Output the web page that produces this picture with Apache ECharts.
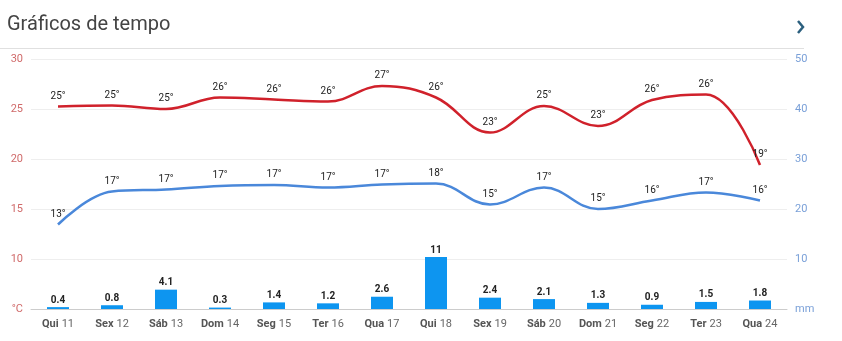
<!DOCTYPE html>
<html><head><meta charset="utf-8">
<script src="https://cdn.jsdelivr.net/npm/echarts@6/dist/echarts.min.js"></script>
<style>html,body{margin:0;padding:0;background:#fff}#c{width:842px;height:341px}</style>
</head><body><div id="c"></div>
<script>
const dayNames = ['Qui','Sex','Sáb','Dom','Seg','Ter','Qua','Qui','Sex','Sáb','Dom','Seg','Ter','Qua'];
const dayNums = ['11','12','13','14','15','16','17','18','19','20','21','22','23','24'];
const maxTemp = [25.25,25.35,25.0,26.15,25.95,25.75,27.3,26.15,22.65,25.3,23.3,25.9,26.45,19.4];
const minTemp = [13.45,16.75,16.95,17.3,17.4,17.15,17.45,17.55,15.45,17.15,15.0,15.85,16.65,15.85];
const rain = [0.4,0.8,4.1,0.3,1.4,1.2,2.6,11,2.4,2.1,1.3,0.9,1.5,1.8];
const titleText = 'Gráficos de tempo';

const categories = dayNames.map((d,i)=>d+'|'+dayNums[i]);
const chart = echarts.init(document.getElementById('c'), null, {renderer:'canvas'});
const FONT = 'Roboto, "Noto Sans", sans-serif';
const lbl = {show:true, position:'top', distance:5, color:'#222', fontSize:10, fontFamily:FONT,
  formatter: p => Math.round(p.value) + '°'};
chart.setOption({
  animation:false,
  textStyle:{fontFamily:FONT},
  graphic:[
    {type:'text', left:7, top:15, style:{text:titleText, fontSize:20, fill:'#444', fontFamily:FONT}},
    {type:'line', shape:{x1:0,y1:48.5,x2:804,y2:48.5}, style:{stroke:'#e0e0e0', lineWidth:1}},
    {type:'polyline', shape:{points:[[798,21],[803,27],[798,33]]}, style:{stroke:'#2b5f7e', lineWidth:2.5, fill:null}}
  ],
  grid:{left:31, right:55, top:59, bottom:32},
  xAxis:{type:'category', data:categories, boundaryGap:true,
    axisLine:{lineStyle:{color:'#ccc'}},
    axisTick:{alignWithLabel:true, length:5, lineStyle:{color:'#ccc'}},
    axisLabel:{margin:9, interval:0, formatter: v => { const [a,b]=v.split('|'); return '{b|'+a+'} {n|'+b+'}'; },
      rich:{b:{fontWeight:'bold', color:'#555', fontSize:11, fontFamily:FONT}, n:{color:'#666', fontSize:11, fontFamily:FONT}}}
  },
  yAxis:[
    {type:'value', min:5, max:30, interval:5, position:'left',
      axisLine:{show:false}, axisTick:{show:false},
      splitLine:{lineStyle:{color:'#eee'}},
      axisLabel:{color:'#d06a6a', fontSize:11, margin:8, formatter: v => v===5 ? '°C' : v}},
    {type:'value', min:0, max:50, interval:10, position:'right',
      axisLine:{show:false}, axisTick:{show:false}, splitLine:{show:false},
      axisLabel:{color:'#7aa0d8', fontSize:11, margin:8, formatter: v => v===0 ? 'mm' : v}},
    {type:'value', min:0, max:53, show:false}
  ],
  series:[
    {type:'bar', yAxisIndex:2, data:rain, barWidth:22, itemStyle:{color:'#0d95f0'},
      label:{show:true, position:'top', distance:2, color:'#222', fontSize:10, fontWeight:'bold', fontFamily:FONT}},
    {type:'line', yAxisIndex:0, data:maxTemp, smooth:0.4, symbol:'circle', symbolSize:1,
      itemStyle:{color:'rgba(0,0,0,0)', borderWidth:0}, lineStyle:{color:'#d0212b', width:2.5}, label:lbl},
    {type:'line', yAxisIndex:0, data:minTemp, smooth:0.4, symbol:'circle', symbolSize:1,
      itemStyle:{color:'rgba(0,0,0,0)', borderWidth:0}, lineStyle:{color:'#4a88da', width:2.5}, label:lbl}
  ]
});
</script></body></html>
